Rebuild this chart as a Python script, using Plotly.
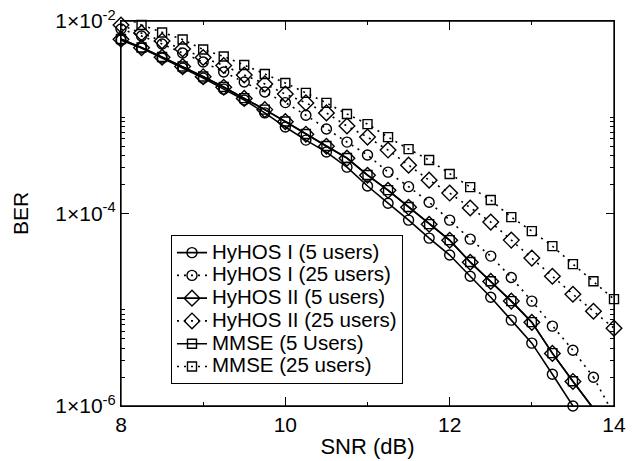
import plotly.graph_objects as go

# SNR points (dB)
snr_db = [8.0, 8.25, 8.5, 8.75, 9.0, 9.25, 9.5, 9.75, 10.0, 10.25, 10.5, 10.75,
          11.0, 11.25, 11.5, 11.75, 12.0, 12.25, 12.5, 12.75, 13.0, 13.25, 13.5,
          13.75, 14.0]

# BER values
hyhos1_5 = [6.34e-3, 5.24e-3, 4.12e-3, 3.25e-3, 2.55e-3, 1.96e-3, 1.51e-3, 1.11e-3,
            7.91e-4, 5.79e-4, 4.35e-4, 3.03e-4, 1.93e-4, 1.28e-4, 8.54e-5, 5.55e-5,
            3.70e-5, 2.23e-5, 1.35e-5, 7.80e-6, 4.50e-6, 2.14e-6, 1.0e-6]
hyhos1_25 = [8.26e-3, 6.98e-3, 5.77e-3, 4.65e-3, 3.75e-3, 2.95e-3, 2.32e-3, 1.83e-3,
             1.42e-3, 1.05e-3, 7.54e-4, 5.52e-4, 4.05e-4, 2.69e-4, 1.90e-4, 1.31e-4,
             8.54e-5, 5.42e-5, 3.61e-5, 2.16e-5, 1.23e-5, 6.76e-6, 3.80e-6, 1.99e-6,
             8.1e-7]
hyhos2_5 = [6.45e-3, 5.28e-3, 4.20e-3, 3.36e-3, 2.64e-3, 2.05e-3, 1.57e-3, 1.20e-3,
            9.0e-4, 6.67e-4, 5.0e-4, 3.76e-4, 2.50e-4, 1.74e-4, 1.16e-4, 7.74e-5,
            5.27e-5, 3.12e-5, 1.97e-5, 1.23e-5, 7.40e-6, 3.52e-6, 1.80e-6, 9.4e-7]
hyhos2_25 = [9.09e-3, 7.50e-3, 6.19e-3, 5.12e-3, 4.17e-3, 3.45e-3, 2.75e-3, 2.22e-3,
             1.74e-3, 1.41e-3, 1.11e-3, 8.10e-4, 6.22e-4, 4.56e-4, 3.18e-4, 2.22e-4,
             1.63e-4, 1.14e-4, 8.14e-5, 5.29e-5, 3.44e-5, 2.23e-5, 1.45e-5, 9.66e-6,
             6.44e-6]
mmse_5 = [6.50e-3, 5.30e-3, 4.22e-3, 3.37e-3, 2.65e-3, 2.06e-3, 1.58e-3, 1.20e-3,
          9.02e-4, 6.69e-4, 5.02e-4, 3.77e-4, 2.51e-4, 1.75e-4, 1.17e-4, 7.76e-5,
          5.29e-5, 3.13e-5, 1.98e-5, 1.23e-5, 7.43e-6, 3.54e-6, 1.81e-6, 9.4e-7]
mmse_25 = [1.13e-2, 9.09e-3, 7.60e-3, 6.42e-3, 5.06e-3, 4.28e-3, 3.49e-3, 2.81e-3,
           2.27e-3, 1.79e-3, 1.41e-3, 1.08e-3, 8.49e-4, 6.22e-4, 4.67e-4, 3.59e-4,
           2.57e-4, 1.88e-4, 1.38e-4, 9.18e-5, 6.56e-5, 4.58e-5, 2.98e-5, 1.98e-5,
           1.29e-5]

y_tick_vals = [1e-6, 1e-4, 1e-2]
y_tick_text = ["1×10<sup>-6</sup>", "1×10<sup>-4</sup>", "1×10<sup>-2</sup>"]
y_minor_vals = [2e-6, 3e-6, 4e-6, 5e-6, 6e-6, 7e-6, 8e-6, 9e-6, 1e-5,
                2e-4, 3e-4, 4e-4, 5e-4, 6e-4, 7e-4, 8e-4, 9e-4, 1e-3]
x_tick_vals = [8, 10, 12, 14]

Y_LO = 1e-6
Y_HI = 1e-2

series = [
    ("HyHOS I (5 users)", hyhos1_5, "circle-open", "solid"),
    ("HyHOS I (25 users)", hyhos1_25, "circle-open", "2px,5px"),
    ("HyHOS II (5 users)", hyhos2_5, "diamond-open", "solid"),
    ("HyHOS II (25 users)", hyhos2_25, "diamond-open", "2px,5px"),
    ("MMSE (5 Users)", mmse_5, "square-open", "solid"),
    ("MMSE (25 users)", mmse_25, "square-open", "2px,5px"),
]

marker_size = {"circle-open": 10, "diamond-open": 12, "square-open": 9}

fig = go.Figure()

for name, ber, symbol, dash in series:
    xs = snr_db[:len(ber)]
    idx = [i for i, v in enumerate(ber) if Y_LO * 0.999 <= v <= Y_HI]
    first, last = idx[0], idx[-1]

    # part of the curve that runs off the axes: line only, no markers
    if first > 0:
        fig.add_trace(go.Scatter(x=xs[:first + 1], y=ber[:first + 1], mode="lines",
                                 line=dict(color="black", width=1.6, dash=dash),
                                 showlegend=False, hoverinfo="skip"))
    if last < len(ber) - 1:
        fig.add_trace(go.Scatter(x=xs[last:], y=ber[last:], mode="lines",
                                 line=dict(color="black", width=1.6, dash=dash),
                                 showlegend=False, hoverinfo="skip"))

    # legend rows are spaced from the legend font size, so keep that small
    # and draw the label itself a little bigger
    fig.add_trace(go.Scatter(
        x=xs[first:last + 1], y=ber[first:last + 1],
        name='<span style="font-size:20.5px">%s</span>' % name,
        mode="lines+markers", cliponaxis=False,
        line=dict(color="black", width=1.6, dash=dash),
        marker=dict(symbol=symbol, size=marker_size[symbol], color="black",
                    line=dict(width=1.4, color="black")),
    ))

font = dict(family="Liberation Sans, Arial, sans-serif", size=20, color="black")

# the page body adds 8px around the figure, so the figure is 8px smaller
fig.update_layout(
    width=633, height=453,
    margin=dict(l=113, r=27, t=13, b=55),
    paper_bgcolor="white", plot_bgcolor="white",
    font=font,
    showlegend=True,
    legend=dict(x=0.101, y=0.444, xanchor="left", yanchor="top",
                bgcolor="white", bordercolor="black", borderwidth=1.2,
                font=dict(family=font["family"], size=15.2, color="black"),
                itemwidth=30, tracegroupgap=0),
)

# box round the axes
fig.add_shape(type="rect", xref="paper", yref="paper", x0=0, x1=1, y0=0, y1=1,
              line=dict(color="black", width=1.3), layer="above")

fig.update_xaxes(
    range=[8, 14], tickvals=x_tick_vals, ticktext=[str(v) for v in x_tick_vals],
    ticks="inside", ticklen=9, tickwidth=1.2, tickcolor="black",
    minor=dict(dtick=1, tick0=8, ticks="inside", ticklen=4, tickwidth=1.2,
               tickcolor="black"),
    showline=True, linecolor="black", linewidth=1.3, mirror="ticks",
    showgrid=False, zeroline=False, automargin=False, ticklabeloverflow="allow",
    title=dict(text="SNR (dB)", font=dict(size=22), standoff=3),
    tickfont=dict(size=21),
)

fig.update_yaxes(
    type="log", range=[-6, -2],
    tickvals=y_tick_vals, ticktext=y_tick_text,
    ticks="inside", ticklen=8, tickwidth=1.2, tickcolor="black",
    minor=dict(tickvals=y_minor_vals, ticks="inside", ticklen=4, tickwidth=1.2,
               tickcolor="black"),
    showline=True, linecolor="black", linewidth=1.3, mirror="ticks",
    showgrid=False, zeroline=False, automargin=False, ticklabeloverflow="allow",
    title=dict(text="BER", font=dict(size=21), standoff=20),
    tickfont=dict(size=21),
)

fig.write_html("out.html")
